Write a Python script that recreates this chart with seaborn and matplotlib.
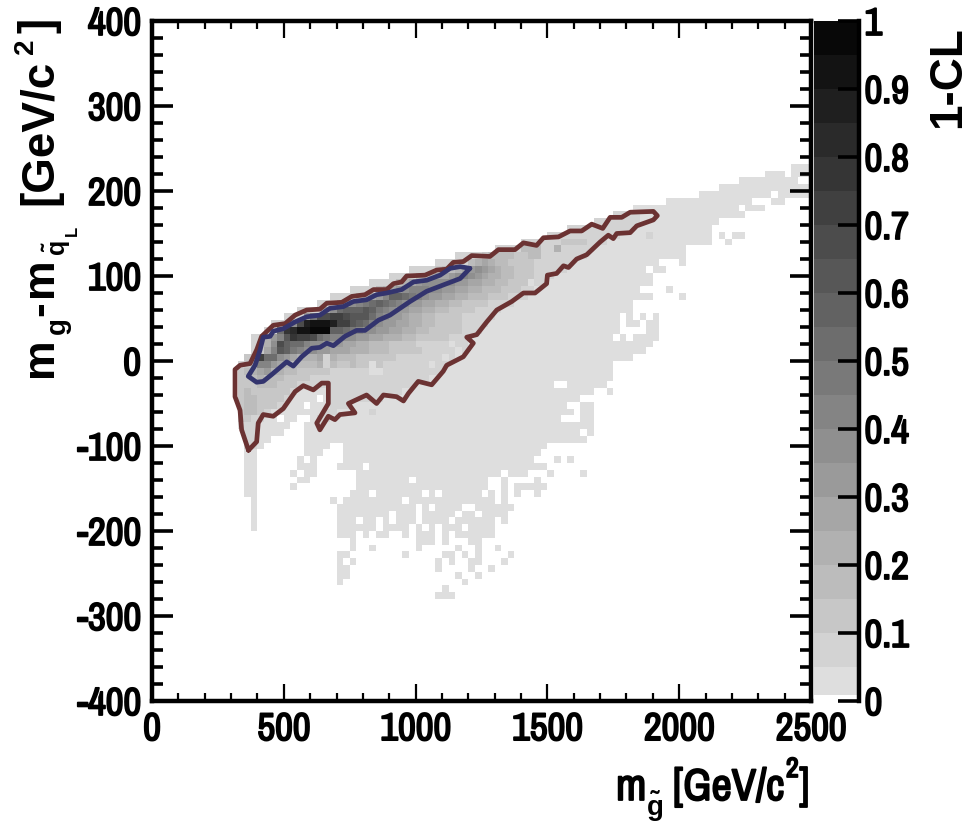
import numpy as np
import pandas as pd
import matplotlib
matplotlib.use('Agg')
import matplotlib.pyplot as plt
import matplotlib.patheffects as pe
from matplotlib.colors import ListedColormap, BoundaryNorm
import seaborn as sns

# histogram binning: 100 x 100 cells, 25 GeV wide and 8 GeV high
x_bin = 25
y_bin = 8
y_min = -400
n_bins = 100

x_ticks = [0, 500, 1000, 1500, 2000, 2500]
y_ticks = [-400, -300, -200, -100, 0, 100, 200, 300, 400]
x_minor = [v for v in range(0, 2501, 100)]
y_minor = [v for v in range(-400, 401, 20)]
cbar_ticks = [0, 0.1, 0.2, 0.3, 0.4, 0.5, 0.6, 0.7, 0.8, 0.9, 1]
cbar_labels = ['0', '0.1', '0.2', '0.3', '0.4', '0.5', '0.6', '0.7', '0.8', '0.9', '1']

# occupied cells of the scan, row number -> column runs
light_rows = {
    78: [(97, 99)], 77: [(93, 95), (97, 99)], 76: [(89, 97)], 75: [(86, 99)],
    74: [(83, 93), (95, 99)], 73: [(78, 90), (94, 95)], 72: [(73, 88), (90, 92)],
    71: [(70, 89)], 70: [(67, 85)], 69: [(63, 84)], 68: [(60, 84), (86, 86), (88, 89)],
    67: [(56, 84), (87, 87)], 66: [(52, 80)], 65: [(46, 80)], 64: [(43, 76), (80, 80)],
    63: [(39, 74), (76, 77)], 62: [(36, 75)], 61: [(33, 75)], 60: [(30, 73), (78, 78)],
    59: [(27, 75), (80, 80)], 58: [(25, 72)], 57: [(22, 72)],
    56: [(20, 70), (72, 72), (74, 74), (76, 76)], 55: [(18, 70), (72, 73), (75, 76)],
    54: [(17, 70), (75, 76)], 53: [(15, 69), (71, 71), (73, 76)], 52: [(15, 75)],
    51: [(15, 74)], 50: [(15, 72)], 49: [(13, 69)], 48: [(13, 69)], 47: [(13, 69)],
    46: [(13, 60), (63, 68)], 45: [(13, 66), (69, 69)], 44: [(13, 24), (26, 64)],
    43: [(13, 22), (24, 62), (65, 66)], 42: [(13, 63), (65, 66)],
    41: [(13, 18), (20, 21), (24, 61), (65, 66)], 40: [(13, 20), (23, 66)],
    39: [(14, 19), (23, 64), (66, 66)], 38: [(14, 17), (23, 65)],
    37: [(14, 16), (23, 26), (29, 59)], 36: [(14, 15), (23, 25), (29, 58)],
    35: [(14, 15), (22, 22), (24, 24), (29, 57), (61, 61), (63, 63)],
    34: [(14, 15), (22, 24), (28, 31), (33, 59)],
    33: [(14, 15), (21, 21), (23, 24), (31, 52), (54, 56), (60, 60), (65, 65)],
    32: [(14, 15), (22, 23), (31, 38), (40, 50), (53, 53), (58, 58)],
    31: [(14, 15), (21, 21), (31, 50), (53, 53), (55, 59)],
    30: [(14, 15), (30, 32), (34, 40), (42, 42), (44, 49), (51, 51), (53, 53), (55, 55), (58, 58)],
    29: [(15, 15), (27, 27), (29, 37), (39, 51), (53, 53)],
    28: [(15, 15), (28, 39), (41, 41), (43, 46), (49, 54)],
    27: [(15, 15), (28, 35), (37, 39), (41, 45), (47, 48), (50, 53)],
    26: [(15, 15), (28, 30), (32, 33), (35, 35), (37, 39), (41, 44), (46, 51), (53, 53)],
    25: [(15, 15), (28, 33), (35, 38), (40, 40), (42, 42), (44, 46), (48, 51)],
    24: [(28, 30), (32, 32), (34, 35), (38, 38), (40, 42), (44, 44), (46, 51)],
    23: [(30, 30), (40, 42), (44, 44), (48, 49)],
    22: [(30, 30), (33, 33), (40, 40), (46, 46), (49, 49), (52, 52)],
    21: [(28, 29), (38, 38), (44, 45), (47, 47), (49, 49), (54, 54)],
    20: [(28, 28), (30, 30), (43, 43), (45, 45), (48, 49), (53, 53)],
    19: [(28, 29), (43, 43), (48, 48), (51, 51)],
    18: [(28, 29), (46, 46), (49, 49)], 17: [(28, 28), (47, 47)], 16: [(44, 44)], 15: [(43, 45)],
}

# cells one band up (0.05-0.1), inside the outer contour
inner_rows = {
    71: [(70, 73)], 70: [(67, 73)], 69: [(63, 72)], 68: [(60, 70)], 67: [(56, 68)],
    66: [(52, 66)], 65: [(46, 65)], 64: [(43, 63)], 63: [(39, 62)], 62: [(36, 60)],
    61: [(33, 59)], 60: [(30, 57)], 59: [(27, 56)], 58: [(25, 54)], 57: [(22, 52)],
    56: [(20, 51)], 55: [(18, 50)], 54: [(17, 49)], 53: [(15, 47)], 52: [(15, 47)],
    51: [(15, 47)], 50: [(15, 45)], 49: [(13, 44)], 48: [(13, 43)], 47: [(13, 41)],
    46: [(13, 39)], 45: [(13, 21), (27, 37)], 44: [(13, 20), (27, 34)],
    43: [(13, 19), (27, 29)], 42: [(13, 17), (26, 27)], 41: [(13, 15), (25, 26)],
    40: [(14, 15), (25, 25)], 39: [(14, 15)], 38: [(14, 15)], 37: [(14, 15)],
}

# colour band of each cell along the ridge, row number -> (first column, bands)
ridge_rows = {
    67: (62, [3, 3, 3, 3]),
    66: (56, [4, 4, 4, 2, 2, 5]),
    65: (50, [3, 4, 4, 4, 4, 3, 3, 4, 4]),
    64: (48, [4, 5, 6, 5, 4, 4, 3, 3, 3, 3]),
    63: (43, [3, 4, 4, 5, 6, 7, 8, 7, 6, 5, 4, 4, 3, 3, 3]),
    62: (40, [4, 4, 5, 6, 6, 7, 8, 9, 8, 7, 6, 5, 5, 4, 4, 3, 3, 3]),
    61: (37, [4, 5, 6, 7, 8, 8, 8, 8, 8, 7, 7, 6, 6, 5, 5, 4, 4, 3, 3, 3]),
    60: (34, [4, 5, 6, 7, 8, 9, 9, 9, 8, 8, 7, 7, 6, 6, 5, 5, 4, 4, 4, 3, 3, 3]),
    59: (31, [4, 5, 6, 7, 9, 12, 12, 11, 10, 9, 8, 7, 7, 6, 6, 5, 5, 4, 4, 4, 3, 3, 3]),
    58: (28, [5, 7, 8, 9, 10, 11, 12, 11, 10, 9, 8, 7, 7, 6, 6, 5, 5, 4, 4, 3, 3, 3, 3]),
    57: (26, [6, 8, 11, 12, 12, 12, 13, 12, 10, 9, 8, 7, 7, 6, 6, 5, 5, 4, 4, 3, 3, 3, 3, 2]),
    56: (23, [7, 10, 14, 14, 15, 15, 14, 13, 13, 13, 11, 9, 8, 7, 7, 6, 5, 5, 4, 4, 3, 3, 3, 3]),
    55: (21, [8, 14, 18, 19, 19, 19, 18, 15, 15, 13, 12, 11, 9, 8, 7, 7, 6, 6, 5, 5, 4, 4, 3, 3, 3, 3]),
    54: (19, [11, 16, 17, 19, 19, 20, 20, 20, 12, 12, 11, 10, 9, 8, 8, 7, 7, 6, 6, 5, 5, 4, 4, 3, 3, 3, 3, 3]),
    53: (17, [5, 7, 9, 13, 16, 15, 15, 14, 11, 10, 9, 9, 8, 8, 7, 7, 6, 6, 5, 5, 5, 4, 4, 3, 3, 3, 3, 3]),
    52: (15, [2, 3, 5, 8, 14, 12, 11, 11, 9, 8, 8, 7, 7, 7, 6, 6, 5, 5, 4, 4, 4, 3, 3, 3, 3]),
    51: (15, [2, 3, 6, 9, 13, 12, 10, 9, 8, 8, 7, 7, 6, 6, 6, 5, 5, 5, 4, 4, 4, 3, 3, 3, 3, 3]),
    50: (14, [3, 4, 15, 11, 11, 8, 7, 6, 5, 5, 5, 6, 5, 5, 4, 4, 4, 3, 3, 3, 3, 3, 3, 2]),
    49: (13, [2, 3, 4, 9, 9, 7, 6, 5, 4, 4, 4, 4, 5, 4, 4, 3, 3, 4, 3, 3, 3, 3, 2]),
    48: (13, [3, 4, 5, 6, 7, 5, 5, 4, 4, 3, 3, 3, 3, 3]),
    47: (13, [3, 3, 4, 5, 4, 4, 4, 3, 3, 3, 3, 2]),
    46: (13, [3, 3, 3, 4, 4, 4, 3, 3, 3, 2]),
    45: (13, [3, 4, 3, 3, 3, 3, 3, 3, 2]),
    44: (13, [3, 4, 4, 3, 3, 3, 3]),
    43: (13, [3, 4, 4, 3, 3, 3, 2]),
    42: (13, [3, 4, 4, 3, 2]),
    41: (13, [3, 3, 2, 2]),
}

# single cells that stand out from their neighbours: (row, column, band)
odd_cells = [(49, 42, 1), (52, 45, 1), (51, 46, 1), (50, 44, 1), (50, 26, 2), (49, 26, 2),
             (49, 33, 1), (48, 33, 1), (48, 34, 1), (61, 57, 1), (68, 75, 2), (42, 33, 2)]

# outer contour
red_x = [366, 340, 334, 315, 315, 334, 372, 397, 416, 460, 505, 543, 587, 637, 663, 720,
         758, 808, 840, 890, 916, 947, 966, 1036, 1080, 1118, 1143, 1181, 1213, 1282, 1314,
         1377, 1409, 1459, 1485, 1542, 1586, 1630, 1668, 1710, 1738, 1782, 1814, 1902, 1917,
         1902, 1839, 1814, 1763, 1750, 1731, 1700, 1649, 1611, 1580, 1561, 1535, 1500, 1497,
         1453, 1409, 1365, 1308, 1270, 1232, 1194, 1219, 1181, 1118, 1105, 1061, 1010, 973,
         954, 928, 878, 852, 814, 745, 770, 713, 694, 669, 637, 625, 669, 669, 644, 612, 574,
         543, 498, 460, 422, 403, 397, 366]
red_y = [-105, -81, -58, -42, -10, -5, -3, 13, 29, 42, 44, 54, 60, 61, 68, 69,
         76, 78, 84, 84, 91, 93, 100, 101, 107, 108, 116, 117, 124, 123, 131,
         131, 139, 136, 145, 146, 153, 153, 161, 156, 169, 169, 175, 176, 171,
         166, 159, 151, 150, 144, 148, 140, 125, 120, 110, 112, 103, 101, 91,
         80, 80, 70, 60, 46, 31, 28, 21, 5, -5, -12, -28, -24, -38,
         -47, -42, -40, -50, -40, -50, -61, -63, -69, -65, -81, -73, -50, -26, -26, -34, -29,
         -36, -56, -65, -63, -73, -95, -105]

# inner contour
blue_x = [1206, 1169, 1131, 1093, 1042, 992, 947, 890, 852, 814, 764, 726, 675, 637, 587, 543,
          498, 460, 448, 422, 410, 391, 365, 397, 422, 454, 511, 536, 568, 606, 637, 663, 688,
          732, 776, 808, 859, 903, 979, 1042, 1118, 1169, 1206]
blue_y = [109, 111, 109, 101, 95, 93, 84, 80, 78, 72, 70, 64, 62, 54, 52, 46,
          38, 35, 29, 28, 13, -5, -18, -25, -24, -16, -1, -6, 5, 15, 16, 21, 18,
          29, 36, 36, 48, 54, 70, 82, 91, 97, 109]


def band_value(band):
    # value in the middle of a colour band
    return (band - 0.5) * 0.05


def build_grid():
    grid = np.zeros((n_bins, n_bins))
    for row, runs in light_rows.items():
        for a, b in runs:
            grid[row, a:b + 1] = band_value(1)
    for row, runs in inner_rows.items():
        for a, b in runs:
            grid[row, a:b + 1] = band_value(2)
    for row, (start, bands) in ridge_rows.items():
        for k, band in enumerate(bands):
            grid[row, start + k] = band_value(band)
    for row, col, band in odd_cells:
        grid[row, col] = band_value(band)
    return pd.DataFrame(grid)


def to_col(x):
    return np.asarray(x, dtype=float) / x_bin


def to_row(y):
    return (np.asarray(y, dtype=float) - y_min) / y_bin


W, H = 969, 825
sns.set_style('white')
narrow = ['Archivo Narrow', 'Roboto Condensed', 'PT Sans Narrow', 'Liberation Sans', 'DejaVu Sans']
wide = ['Liberation Sans', 'DejaVu Sans']
plt.rcParams['font.family'] = narrow
plt.rcParams['font.weight'] = 'bold'
plt.rcParams['text.color'] = 'black'
plt.rcParams['xtick.color'] = 'black'
plt.rcParams['ytick.color'] = 'black'
plt.rcParams['axes.axisbelow'] = False

# the narrow face has no heavy cut, thicken it with a thin outline
heavy = [pe.withStroke(linewidth=1.3, foreground='black')]

fig = plt.figure(figsize=(W / 100, H / 100), dpi=100)
ax = fig.add_axes([152 / W, 1 - 701 / H, 659 / W, 680 / H])
cax = fig.add_axes([814 / W, 1 - 701 / H, 45 / W, 680 / H])

greys = ['#ffffff'] + [(g, g, g) for g in np.linspace(222, 8, 20) / 255]
cmap = ListedColormap(greys)
bounds = [0, 0.009] + [k * 0.05 for k in range(1, 21)]
norm = BoundaryNorm(bounds, cmap.N)

sns.heatmap(build_grid(), ax=ax, cbar_ax=cax, cmap=cmap, norm=norm, xticklabels=False,
            yticklabels=False, cbar_kws={'ticks': cbar_ticks, 'spacing': 'proportional'})
ax.invert_yaxis()

sns.lineplot(x=to_col(red_x), y=to_row(red_y), sort=False, estimator=None, color='#6b3232',
             linewidth=3.4, solid_joinstyle='round', ax=ax)
sns.lineplot(x=to_col(blue_x), y=to_row(blue_y), sort=False, estimator=None, color='#33346e',
             linewidth=3.4, solid_joinstyle='round', ax=ax)
ax.set_xlim(0, n_bins)
ax.set_ylim(0, n_bins)
ax.set(xlabel='', ylabel='')
ax.set_axisbelow(False)
cax.set_axisbelow(False)

for side in ax.spines:
    ax.spines[side].set_visible(True)
    ax.spines[side].set_linewidth(3.2)
    ax.spines[side].set_color('black')
ax.set_xticks(to_col(x_ticks))
ax.set_xticklabels([str(v) for v in x_ticks], fontsize=28, fontweight='bold')
ax.set_yticks(to_row(y_ticks))
ax.set_yticklabels([str(v) for v in y_ticks], fontsize=28, fontweight='bold')
ax.set_xticks(to_col(x_minor), minor=True)
ax.set_yticks(to_row(y_minor), minor=True)
ax.tick_params(axis='x', which='major', direction='in', length=12, width=1.6, top=True, bottom=True, pad=8)
ax.tick_params(axis='x', which='minor', direction='in', length=6, width=1.6, top=True, bottom=True)
ax.tick_params(axis='y', which='major', direction='in', length=15, width=2.6, left=True, right=True, pad=8)
ax.tick_params(axis='y', which='minor', direction='in', length=8, width=2.6, left=True, right=True)

cbar = ax.collections[0].colorbar
cbar.outline.set_visible(False)
cbar.ax.minorticks_off()
cbar.ax.set_yticklabels(cbar_labels, fontsize=28, fontweight='bold')
cax.spines['right'].set_visible(True)
cax.spines['right'].set_linewidth(3.2)
cax.spines['right'].set_color('black')
cax.tick_params(axis='y', direction='in', length=15, width=2.6, right=True, left=False, pad=4)

for label in ax.get_xticklabels() + ax.get_yticklabels() + cax.get_yticklabels():
    label.set_path_effects(heavy)


def put_text(px, py, text, size, family=narrow, rotation=0):
    t = fig.text(px / W, 1 - py / H, text, fontsize=size, family=family, fontweight='bold',
                 rotation=rotation, rotation_mode='anchor', ha='left', va='baseline')
    if family is narrow:
        t.set_path_effects(heavy)


# x axis title, piece by piece
put_text(616, 800, 'm', 32)
put_text(647, 815, 'g\u0303', 20, wide)
put_text(673, 800, '[GeV/c', 32)
put_text(786, 777, '2', 20)
put_text(799, 800, ']', 32)

# y axis title
put_text(52, 377, 'm', 32, wide, 90)
put_text(65, 334, 'g', 20, wide, 90)
put_text(52, 316, '-', 32, wide, 90)
put_text(52, 297, 'm', 32, wide, 90)
put_text(64, 254, 'q\u0303', 18, wide, 90)
put_text(77, 236, 'L', 12, wide, 90)
put_text(52, 205, '[GeV/c', 33, wide, 90)
put_text(33, 54, '2', 20, wide, 90)
put_text(52, 33, ']', 33, wide, 90)

# colour bar title
put_text(960, 128, '1-CL', 33, wide, 90)

fig.savefig('out.png', dpi=100)
